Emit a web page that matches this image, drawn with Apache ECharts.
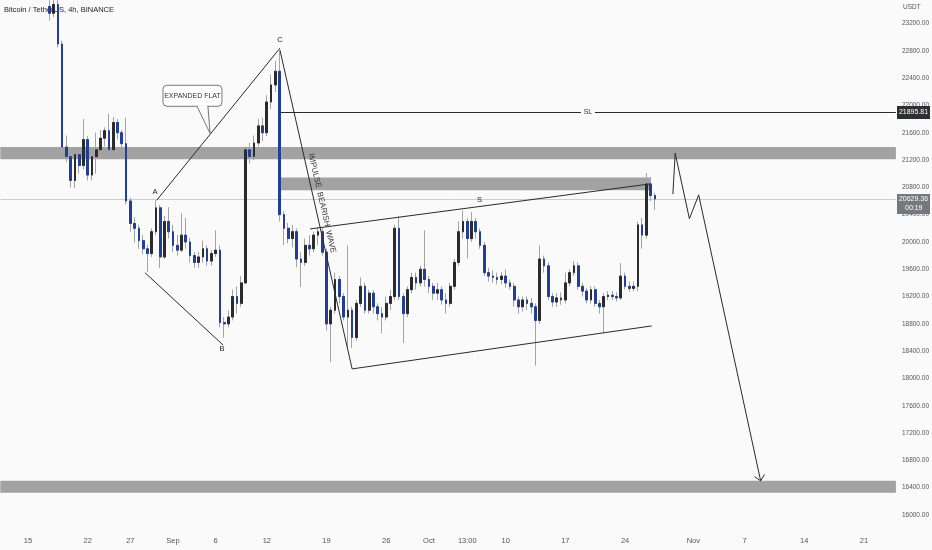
<!DOCTYPE html>
<html><head><meta charset="utf-8">
<script src="https://cdn.jsdelivr.net/npm/echarts@6/dist/echarts.min.js"></script>
<style>html,body{margin:0;padding:0;background:#fafafa}#c{width:932px;height:550px}</style>
</head><body><div id="c"></div>
<script>
// ---------------- data ----------------
const slotStart = '2022-08-12 00:00';   // first 12h slot on the time axis
const slotCount = 210;                  // 12h slots up to Nov 24
const candleStart = '2022-08-17 12:00'; // first candle

const opens = [23450,23350,23480,22900,21390,21250,20900,21280,21120,21500,20980,21250,21350,21520,21630,21350,21750,21600,21440,20600,
20270,20200,20020,19900,19830,20150,20500,19780,20300,20150,19950,19880,20100,20000,19800,19700,19780,19900,19720,19830,
19880,18820,18800,18900,19200,19100,19400,21350,21250,21450,21700,21600,22050,22300,22500,20400,20200,20050,20150,19750,
19700,19950,19900,20100,20150,19850,18800,19000,19450,19200,18900,19000,18600,19100,19350,19000,19250,19050,18950,18900,
19100,19200,20200,19200,18950,19300,19480,19400,19600,19450,19350,19250,19300,19150,19100,19350,19700,20150,20300,20050,
20300,20150,19950,19550,19500,19480,19450,19500,19400,19350,19150,19050,19150,19100,19050,18850,19750,19650,19200,19120,
19180,19150,19400,19550,19650,19350,19280,19150,19300,19100,19050,19200,19220,19200,19180,19500,19350,19320,19350,20250,
20100,20850,20680];
const closes = [23350,23480,22900,21390,21250,20900,21280,21120,21500,20980,21250,21350,21520,21630,21350,21750,21600,21440,20600,20270,
20200,20020,19900,19830,20150,20500,19780,20300,20150,19950,19880,20100,20000,19800,19700,19780,19900,19720,19830,19880,
18820,18800,18900,19200,19100,19400,21350,21250,21450,21700,21600,22050,22300,22500,20400,20200,20050,20150,19750,19700,
19950,19900,20100,20150,19850,18800,19000,19450,19200,18900,19000,18600,19100,19350,19000,19250,19050,18950,18900,19100,
19200,20200,19200,18950,19300,19480,19400,19600,19450,19350,19250,19300,19150,19100,19350,19700,20150,20300,20050,20300,
20150,19950,19550,19500,19480,19450,19500,19400,19350,19150,19050,19150,19100,19050,18850,19750,19650,19200,19120,19180,
19150,19400,19550,19650,19350,19280,19150,19300,19100,19050,19200,19220,19200,19180,19500,19350,19320,19350,20250,20100,
20850,20680,20629.36];
const lows = [23240,23290,22850,21320,21170,20800,20790,21000,21060,20900,20900,21000,21300,21400,21300,21300,21500,21380,20550,20150,
19990,19900,19820,19560,19780,20100,19620,19750,20050,19850,19800,19850,19900,19700,19620,19620,19700,19650,19650,19780,
18750,18600,18750,18850,18950,19050,19380,21150,21200,21400,21480,21550,21950,22200,20300,19950,19980,19920,19630,19340,
19650,19800,19850,19950,19800,18700,18240,18950,19100,18850,18460,18450,18550,19050,18950,18950,18950,18850,18660,18850,
19000,19150,19150,18520,18900,19250,19300,19350,19350,19250,19150,19150,19080,18950,19050,19300,19650,20050,19760,20000,
20050,19900,19500,19420,19400,19380,19380,19330,19300,19050,18950,18980,19000,18950,18190,18800,19550,19150,19050,19050,
19080,19100,19350,19500,19300,19200,19100,19100,19050,18950,18660,19150,19150,19130,19150,19300,19270,19280,19280,19900,
20050,20600,20470];
const highs = [23600,23600,23580,22950,21560,21290,21390,21330,21800,21550,21300,21600,21640,21680,21880,21830,21800,21640,21820,20650,
20360,20250,20100,19960,20200,20610,20540,20380,20510,20250,20100,20420,20350,20060,19850,19850,20020,19950,19880,20170,
19950,18900,19000,19300,19350,19500,21400,21450,21560,21800,21820,22150,22450,22650,22800,20450,20280,20250,20200,19850,
20050,20100,20150,20220,20200,19900,19050,19550,19500,19250,19950,19050,19150,19480,19400,19300,19300,19100,19050,19200,
19300,20250,20380,19250,19350,19550,19550,19650,20170,19500,19400,19400,19350,19250,19400,19750,20300,20460,20350,20440,
20350,20200,20000,19620,19580,19550,19560,19600,19450,19400,19200,19200,19200,19180,19100,19950,19800,19700,19250,19250,
19260,19550,19600,19720,19700,19400,19320,19350,19350,19150,19250,19280,19280,19260,19690,19550,19420,19420,20300,20350,
21010,20950,20720];

const tickDates = ['2022-08-15 00:00','2022-08-22 00:00','2022-08-27 00:00','2022-09-01 00:00','2022-09-06 00:00','2022-09-12 00:00',
'2022-09-19 00:00','2022-09-26 00:00','2022-10-01 00:00','2022-10-05 12:00','2022-10-10 00:00','2022-10-17 00:00','2022-10-24 00:00',
'2022-11-01 00:00','2022-11-07 00:00','2022-11-14 00:00','2022-11-21 00:00'];
const tickTexts = ['15','22','27','Sep','6','12','19','26','Oct','13:00','10','17','24','Nov','7','14','21'];

// drawings (date, price)
const wedgeLine = [['2022-08-28 17:00',19550],['2022-09-06 21:00',18490]];
const flatLine = [['2022-08-30 02:00',20610],['2022-09-13 13:00',22840]];
const impulseLine = [['2022-09-13 13:00',22810],['2022-09-22 00:00',18140]];
const upperChannel = [['2022-09-17 01:30',20190],['2022-10-26 22:00',20850]];
const lowerChannel = [['2022-09-22 00:00',18140],['2022-10-27 03:00',18770]];
const projection = [['2022-10-29 14:30',20700],['2022-10-29 21:00',21300],['2022-10-31 13:00',20340],['2022-11-01 15:00',20690],['2022-11-08 21:30',16500]];
const zoneLows = [21210, 20758, 16326];
const zoneHighs = [21390, 20944, 16502];
const zoneFrom = [null, '2022-09-13 14:00', null];
const zoneTo = [null, '2022-10-26 22:00', null];
const slLevel = 21895.81;
const slStart = '2022-09-13 13:00';
const lastPrice = 20629.36;
const countdown = '00:19';
const pointLabels = [['A','2022-08-29 21:20',20729],['B','2022-09-06 17:50',18430],['C','2022-09-13 13:00',22954],['S','2022-10-06 22:20',20612]];
const calloutText = 'EXPANDED FLAT';
const calloutCenter = ['2022-09-03 06:45',22141];
const calloutTip = ['2022-09-05 08:10',21592];
const impulseText = 'IMPULSE  BEARISH  WAVE';
const impulseAt = ['2022-09-18 11:15',20568];
const titleText = 'Bitcoin / TetherUS, 4h, BINANCE';
const unitText = 'USDT';

// ---------------- helpers ----------------
const FONT = "'Liberation Sans Narrow','Liberation Sans',Arial,sans-serif";
const BG = '#fafafa';
const DAY = 86400000;
function pad(n){return String(n).padStart(2,'0');}
function fmt(t){const d=new Date(t);return d.getUTCFullYear()+'-'+pad(d.getUTCMonth()+1)+'-'+pad(d.getUTCDate())+' '+pad(d.getUTCHours())+':'+pad(d.getUTCMinutes());}
function ms(s){return Date.parse(s.replace(' ','T')+':00Z');}
const ORIGIN = ms('2022-08-15 00:00');
function day(s){return (ms(s)-ORIGIN)/DAY;}
const slots = [];
for (let k=0;k<slotCount;k++) slots.push(fmt(ms(slotStart)+k*DAY/2));
const startIdx = slots.indexOf(candleStart);
const xMin = day(slotStart)-0.25, xMax = xMin + slotCount*0.5;
const tickMap = {}; tickDates.forEach((d,i)=>tickMap[d]=tickTexts[i]);

const wickData = opens.map((o,i)=>[slots[startIdx+i], o, closes[i], lows[i], highs[i]]);
const bodyData = opens.map((o,i)=>[slots[startIdx+i], o, closes[i], Math.min(o,closes[i]), Math.max(o,closes[i])]);

function drawing(name, pts, extra){
  return Object.assign({type:'line', name, xAxisIndex:1, yAxisIndex:0, data: pts.map(p=>[day(p[0]),p[1]]),
    symbol:'none', silent:true, animation:false, z:4, lineStyle:{color:'#2a2a2a', width:1}}, extra||{});
}

const zoneData = zoneLows.map((lo,i)=>[
  {xAxis: zoneFrom[i] ? day(zoneFrom[i]) : xMin, yAxis: zoneHighs[i]},
  {xAxis: zoneTo[i] ? day(zoneTo[i]) : xMax, yAxis: lo}
]);

const chart = echarts.init(document.getElementById('c'));
chart.setOption({
  backgroundColor: BG,
  animation: false,
  grid: {left: 0.28, right: 36.1, top: -3.8, bottom: 7.7, containLabel: false, outerBoundsMode: 'none'},
  xAxis: [
    {type:'category', data: slots, boundaryGap: true, offset: -9,
     axisLine:{show:false}, axisTick:{show:false}, splitLine:{show:false},
     axisLabel:{interval:(i,v)=>tickMap[v]!==undefined, formatter:v=>tickMap[v]||'', color:'#555', fontSize:7.5, fontFamily:FONT, margin:4}},
    {type:'value', min:xMin, max:xMax, show:false}
  ],
  yAxis: {type:'value', position:'right', min:15600, max:23600, interval:400, scale:false,
    axisLine:{show:false}, axisTick:{show:false}, splitLine:{show:false},
    axisLabel:{formatter:v=>v.toFixed(2), color:'#555', fontSize:6.5, fontFamily:FONT, margin:6, showMinLabel:false, showMaxLabel:false}},
  series: [
    {type:'candlestick', name:'wicks', xAxisIndex:0, data: wickData, dimensions:['t','open','close','low','high'],
     encode:{x:'t', y:['open','close','low','high']}, barWidth:2.2, z:2, silent:true,
     itemStyle:{color:'#a3a3a3', color0:'#a3a3a3', borderColor:'#a3a3a3', borderColor0:'#a3a3a3', borderWidth:1}},
    {type:'candlestick', name:'bodies', xAxisIndex:0, data: bodyData, dimensions:['t','open','close','low','high'],
     encode:{x:'t', y:['open','close','low','high']}, barWidth:2.2, z:3, silent:true,
     itemStyle:{color:'#2b2b2b', color0:'#213f98', borderColor:'#2b2b2b', borderColor0:'#213f98', borderWidth:1}},
    drawing('flat', flatLine, {
      markArea:{silent:true, z:1, itemStyle:{color:'#a2a2a2', opacity:1}, data: zoneData},
      markLine:{silent:true, z:1, symbol:['none','none'], animation:false,
        data:[
          [{coord:[xMin,lastPrice], lineStyle:{color:'#cdcdcd', width:1, type:'solid'}, label:{show:false}},{coord:[xMax,lastPrice]}],
          [{coord:[day(slStart),slLevel], lineStyle:{color:'#2a2a2a', width:1, type:'solid'}, label:{show:false}},
           {coord:[xMax,slLevel]}]
        ]}
    }),
    drawing('wedge', wedgeLine),
    drawing('impulse', impulseLine),
    drawing('upper', upperChannel),
    drawing('lower', lowerChannel),
    drawing('projection', projection)
  ]
});

// ---------------- text & shapes anchored to data coords ----------------
const P = (s,v)=>chart.convertToPixel({seriesIndex:2}, [day(s), v]);
const PX = (d,v)=>chart.convertToPixel({seriesIndex:2}, [d, v]);
const g = [];
g.push({type:'text', x:4, y:10, z:0, style:{text:titleText, font:'7.5px '+FONT, fill:'#222', textVerticalAlign:'middle'}});
g.push({type:'text', x:903, y:7, z:10, style:{text:unitText, font:'6.5px '+FONT, fill:'#555', textVerticalAlign:'middle'}});
pointLabels.forEach(l=>{const p=P(l[1],l[2]); g.push({type:'text', x:p[0], y:p[1], z:20, style:{text:l[0], font:'7.5px '+FONT, fill:'#222', textAlign:'center', textVerticalAlign:'middle'}});});
// SL label in the middle of its line
const s0 = PX(day(slStart), slLevel), s1 = PX(xMax, slLevel);
const sm = [(s0[0]+s1[0])/2, s0[1]];
g.push({type:'rect', z:20, shape:{x:sm[0]-7, y:sm[1]-4, width:14, height:8}, style:{fill:BG}});
g.push({type:'text', x:sm[0], y:sm[1], z:21, style:{text:'SL', font:'7px '+FONT, fill:'#333', textAlign:'center', textVerticalAlign:'middle'}});
// callout
const cc = P(calloutCenter[0], calloutCenter[1]), ct = P(calloutTip[0], calloutTip[1]);
const cw=59, ch=21;
g.push({type:'rect', z:20, shape:{x:cc[0]-cw/2, y:cc[1]-ch/2, width:cw, height:ch, r:4}, style:{fill:'#ffffff', stroke:'#555', lineWidth:0.8}});
const b1=[cc[0]+4.5, cc[1]+ch/2], b2=[cc[0]+15.5, cc[1]+ch/2];
g.push({type:'line', z:21, shape:{x1:b1[0]+0.6, y1:b1[1], x2:b2[0]-0.6, y2:b2[1]}, style:{stroke:'#ffffff', lineWidth:1.6}});
g.push({type:'polyline', z:21, shape:{points:[b1, ct, b2]}, style:{stroke:'#555', lineWidth:0.8, fill:null}});
g.push({type:'text', x:cc[0], y:cc[1], z:22, style:{text:calloutText, font:'7px '+FONT, fill:'#333', textAlign:'center', textVerticalAlign:'middle'}});
// impulse text along its line
const i0 = P(impulseLine[0][0], impulseLine[0][1]), i1 = P(impulseLine[1][0], impulseLine[1][1]);
const ang = Math.atan2(i1[1]-i0[1], i1[0]-i0[0]);
const ip = P(impulseAt[0], impulseAt[1]);
g.push({type:'text', x:ip[0], y:ip[1], rotation:-ang, z:20, style:{text:impulseText, font:'8px '+FONT, fill:'#333', textAlign:'center', textVerticalAlign:'middle'}});
// arrowhead at projection end
const pe = projection[projection.length-1], pp = projection[projection.length-2];
const e = P(pe[0],pe[1]), q = P(pp[0],pp[1]);
const back = Math.atan2(q[1]-e[1], q[0]-e[0]), L = 7.5, sp = 43*Math.PI/180;
g.push({type:'polyline', z:20, shape:{points:[[e[0]+L*Math.cos(back-sp), e[1]+L*Math.sin(back-sp)], e, [e[0]+L*Math.cos(back+sp), e[1]+L*Math.sin(back+sp)]]}, style:{stroke:'#2a2a2a', lineWidth:1, fill:null}});
// axis price boxes
const ys = chart.convertToPixel({yAxisIndex:0}, slLevel);
g.push({type:'rect', z:30, shape:{x:897, y:ys-6.5, width:33, height:13}, style:{fill:'#2e3034'}});
g.push({type:'text', x:913.5, y:ys, z:31, style:{text:slLevel.toFixed(2), font:'7px '+FONT, fill:'#fff', textAlign:'center', textVerticalAlign:'middle'}});
const yl = chart.convertToPixel({yAxisIndex:0}, lastPrice);
g.push({type:'rect', z:30, shape:{x:897, y:yl-5, width:33, height:20}, style:{fill:'#75787d'}});
g.push({type:'text', x:913.5, y:yl, z:31, style:{text:lastPrice.toFixed(2), font:'7px '+FONT, fill:'#fff', textAlign:'center', textVerticalAlign:'middle'}});
g.push({type:'text', x:905, y:yl+9, z:31, style:{text:countdown, font:'7px '+FONT, fill:'#fff', textAlign:'left', textVerticalAlign:'middle'}});
chart.setOption({graphic: g});
</script></body></html>
